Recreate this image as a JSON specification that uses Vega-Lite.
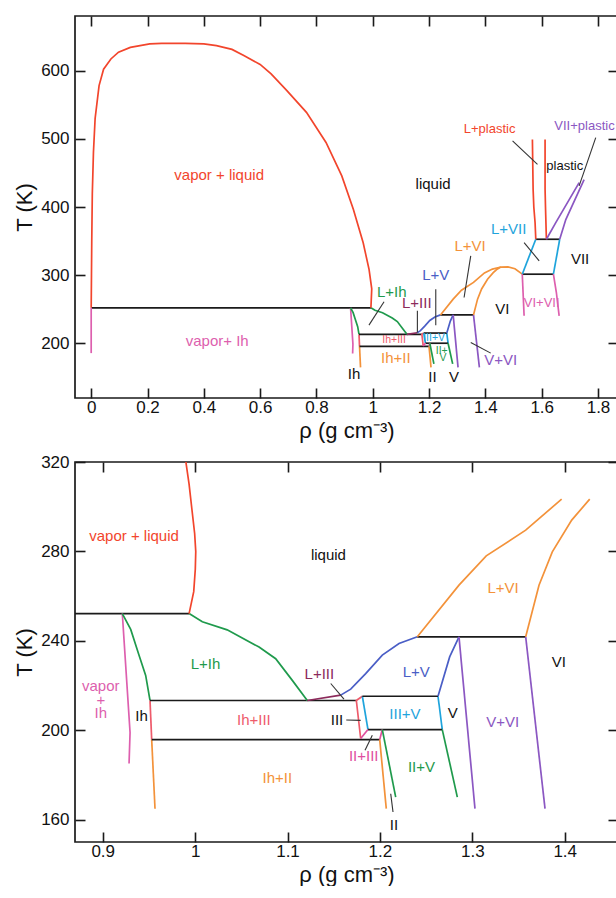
{
"$schema": "https://vega.github.io/schema/vega-lite/v6.json",
"background": "white",
"padding": {"left": 12, "top": 14, "right": 0, "bottom": 0},
"spacing": 64,
"bounds": "flush",
"config": {
 "view": {"stroke": "#1a1a1a", "strokeWidth": 1.7},
 "axis": {"domain": false, "grid": false, "tickColor": "#1a1a1a", "tickWidth": 1.6, "tickSize": -10, "labelFont": "Liberation Sans", "labelFontSize": 17, "labelColor": "#111111", "labelFlush": false, "labelOverlap": false, "labelBound": false, "titleFont": "Liberation Sans", "titleFontSize": 22, "titleFontWeight": "normal", "titleColor": "#111111", "minExtent": 0},
 "axisX": {"labelPadding": 11, "titlePadding": 5},
 "axisY": {"labelPadding": 16, "titlePadding": 4},
 "text": {"font": "Liberation Sans"}
},
"datasets": {
 "cluster": [
  {"s":"t252","c":"triple","i":0,"x":0,"T":252.2},{"s":"t252","c":"triple","i":1,"x":0.9935,"T":252.2},
  {"s":"vIh","c":"vapor+Ih","i":0,"x":0.9212,"T":252.2},{"s":"vIh","c":"vapor+Ih","i":1,"x":0.9296,"T":199},{"s":"vIh","c":"vapor+Ih","i":2,"x":0.9285,"T":185.1},
  {"s":"IhL","c":"L+Ih","i":0,"x":0.9212,"T":252.2},{"s":"IhL","c":"L+Ih","i":1,"x":0.9303,"T":245.1},{"s":"IhL","c":"L+Ih","i":2,"x":0.9393,"T":233.5},{"s":"IhL","c":"L+Ih","i":3,"x":0.9465,"T":224.5},{"s":"IhL","c":"L+Ih","i":4,"x":0.9512,"T":213.3},
  {"s":"IhIII","c":"Ih+III","i":0,"x":0.9512,"T":213.3},{"s":"IhIII","c":"Ih+III","i":1,"x":0.953,"T":195.8},
  {"s":"IhII","c":"Ih+II","i":0,"x":0.953,"T":195.8},{"s":"IhII","c":"Ih+II","i":1,"x":0.9566,"T":164.9},
  {"s":"t213","c":"triple","i":0,"x":0.9512,"T":213.3},{"s":"t213","c":"triple","i":1,"x":1.1745,"T":213.3},
  {"s":"t196","c":"triple","i":0,"x":0.953,"T":195.8},{"s":"t196","c":"triple","i":1,"x":1.1998,"T":195.8},
  {"s":"III1","c":"Ih+III","i":0,"x":1.181,"T":215.2},{"s":"III1","c":"Ih+III","i":1,"x":1.1745,"T":213.3},{"s":"III1","c":"Ih+III","i":2,"x":1.1792,"T":196.3},
  {"s":"IIIV1","c":"III+V","i":0,"x":1.181,"T":215.2},{"s":"IIIV1","c":"III+V","i":1,"x":1.1871,"T":200.3},
  {"s":"IIIV2","c":"III+V","i":0,"x":1.2629,"T":215.2},{"s":"IIIV2","c":"III+V","i":1,"x":1.2675,"T":200.3},
  {"s":"t215","c":"triple","i":0,"x":1.181,"T":215.2},{"s":"t215","c":"triple","i":1,"x":1.2629,"T":215.2},
  {"s":"t200","c":"triple","i":0,"x":1.1871,"T":200.3},{"s":"t200","c":"triple","i":1,"x":1.2675,"T":200.3},
  {"s":"IIIII1","c":"II+III","i":0,"x":1.1792,"T":196.3},{"s":"IIIII1","c":"II+III","i":1,"x":1.1871,"T":200.3},
  {"s":"IIIII2","c":"II+III","i":0,"x":1.1998,"T":195.8},{"s":"IIIII2","c":"II+III","i":1,"x":1.2026,"T":200.3},
  {"s":"II1","c":"Ih+II","i":0,"x":1.1998,"T":195.8},{"s":"II1","c":"Ih+II","i":1,"x":1.2069,"T":164.9},
  {"s":"IIV1","c":"II+V","i":0,"x":1.2026,"T":200.3},{"s":"IIV1","c":"II+V","i":1,"x":1.2171,"T":170.1},
  {"s":"IIV2","c":"II+V","i":0,"x":1.2675,"T":200.3},{"s":"IIV2","c":"II+V","i":1,"x":1.2838,"T":170.1},
  {"s":"LIh","c":"L+Ih","i":0,"x":0.9935,"T":252.2},{"s":"LIh","c":"L+Ih","i":1,"x":1.0078,"T":248.5},{"s":"LIh","c":"L+Ih","i":2,"x":1.0347,"T":244.9},{"s":"LIh","c":"L+Ih","i":3,"x":1.0692,"T":237.2},{"s":"LIh","c":"L+Ih","i":4,"x":1.0872,"T":232},{"s":"LIh","c":"L+Ih","i":5,"x":1.1052,"T":222.3},{"s":"LIh","c":"L+Ih","i":6,"x":1.1214,"T":213.3},
  {"s":"LIII","c":"L+III","i":0,"x":1.1214,"T":213.3},{"s":"LIII","c":"L+III","i":1,"x":1.1576,"T":215.7},
  {"s":"LV1","c":"L+V","i":0,"x":1.1576,"T":215.7},{"s":"LV1","c":"L+V","i":1,"x":1.1684,"T":218.4},{"s":"LV1","c":"L+V","i":2,"x":1.1846,"T":225.3},{"s":"LV1","c":"L+V","i":3,"x":1.2026,"T":233.6},{"s":"LV1","c":"L+V","i":4,"x":1.2207,"T":238.8},{"s":"LV1","c":"L+V","i":5,"x":1.2405,"T":241.8},
  {"s":"t242","c":"triple","i":0,"x":1.2405,"T":241.8},{"s":"t242","c":"triple","i":1,"x":1.3578,"T":241.8},
  {"s":"LV2","c":"L+V","i":0,"x":1.2629,"T":215.2},{"s":"LV2","c":"L+V","i":1,"x":1.2755,"T":232.8},{"s":"LV2","c":"L+V","i":2,"x":1.2856,"T":241.8},
  {"s":"VVI1","c":"V+VI","i":0,"x":1.2856,"T":241.8},{"s":"VVI1","c":"V+VI","i":1,"x":1.3029,"T":164.9},
  {"s":"VVI2","c":"V+VI","i":0,"x":1.3578,"T":241.8},{"s":"VVI2","c":"V+VI","i":1,"x":1.3787,"T":164.9}
 ],
 "topLines": [
  {"s":"dome","c":"vapor+liquid","i":0,"x":0,"T":252.3},{"s":"dome","c":"vapor+liquid","i":1,"x":0.001,"T":300},{"s":"dome","c":"vapor+liquid","i":2,"x":0.002,"T":350},{"s":"dome","c":"vapor+liquid","i":3,"x":0.004,"T":420},{"s":"dome","c":"vapor+liquid","i":4,"x":0.008,"T":480},{"s":"dome","c":"vapor+liquid","i":5,"x":0.014,"T":530},{"s":"dome","c":"vapor+liquid","i":6,"x":0.028,"T":578},{"s":"dome","c":"vapor+liquid","i":7,"x":0.044,"T":602},{"s":"dome","c":"vapor+liquid","i":8,"x":0.07,"T":617},{"s":"dome","c":"vapor+liquid","i":9,"x":0.097,"T":627},{"s":"dome","c":"vapor+liquid","i":10,"x":0.139,"T":634},{"s":"dome","c":"vapor+liquid","i":11,"x":0.208,"T":639},{"s":"dome","c":"vapor+liquid","i":12,"x":0.25,"T":640},{"s":"dome","c":"vapor+liquid","i":13,"x":0.334,"T":640},{"s":"dome","c":"vapor+liquid","i":14,"x":0.40,"T":639},{"s":"dome","c":"vapor+liquid","i":15,"x":0.445,"T":636.5},{"s":"dome","c":"vapor+liquid","i":16,"x":0.50,"T":631},{"s":"dome","c":"vapor+liquid","i":17,"x":0.542,"T":622},{"s":"dome","c":"vapor+liquid","i":18,"x":0.60,"T":609},{"s":"dome","c":"vapor+liquid","i":19,"x":0.639,"T":595},{"s":"dome","c":"vapor+liquid","i":20,"x":0.695,"T":570.6},{"s":"dome","c":"vapor+liquid","i":21,"x":0.7645,"T":538.7},{"s":"dome","c":"vapor+liquid","i":22,"x":0.834,"T":494.6},{"s":"dome","c":"vapor+liquid","i":23,"x":0.89,"T":445.6},{"s":"dome","c":"vapor+liquid","i":24,"x":0.931,"T":396.6},{"s":"dome","c":"vapor+liquid","i":25,"x":0.966,"T":347.5},{"s":"dome","c":"vapor+liquid","i":26,"x":0.987,"T":308.3},{"s":"dome","c":"vapor+liquid","i":27,"x":0.9964,"T":280},{"s":"dome","c":"vapor+liquid","i":28,"x":0.9935,"T":252.3},
  {"s":"vIh0","c":"vapor+Ih","i":0,"x":0,"T":252.3},{"s":"vIh0","c":"vapor+Ih","i":1,"x":0,"T":185.8},
  {"s":"LVI1","c":"L+VI","i":0,"x":1.2405,"T":241.8},{"s":"LVI1","c":"L+VI","i":1,"x":1.2856,"T":264.9},{"s":"LVI1","c":"L+VI","i":2,"x":1.3151,"T":278},{"s":"LVI1","c":"L+VI","i":3,"x":1.3578,"T":289.5},{"s":"LVI1","c":"L+VI","i":4,"x":1.3967,"T":303.4},{"s":"LVI1","c":"L+VI","i":5,"x":1.425,"T":309},{"s":"LVI1","c":"L+VI","i":6,"x":1.455,"T":312},{"s":"LVI1","c":"L+VI","i":7,"x":1.48,"T":312.3},{"s":"LVI1","c":"L+VI","i":8,"x":1.505,"T":309.5},{"s":"LVI1","c":"L+VI","i":9,"x":1.531,"T":301.5},
  {"s":"LVI2","c":"L+VI","i":0,"x":1.3578,"T":241.8},{"s":"LVI2","c":"L+VI","i":1,"x":1.3722,"T":264.9},{"s":"LVI2","c":"L+VI","i":2,"x":1.3866,"T":279.8},{"s":"LVI2","c":"L+VI","i":3,"x":1.4076,"T":294},{"s":"LVI2","c":"L+VI","i":4,"x":1.4271,"T":303.4},{"s":"LVI2","c":"L+VI","i":5,"x":1.44,"T":308.3},{"s":"LVI2","c":"L+VI","i":6,"x":1.455,"T":312},
  {"s":"t301","c":"triple","i":0,"x":1.531,"T":301.5},{"s":"t301","c":"triple","i":1,"x":1.6416,"T":301.5},
  {"s":"t352","c":"triple","i":0,"x":1.579,"T":352.7},{"s":"t352","c":"triple","i":1,"x":1.664,"T":352.7},
  {"s":"LVII1","c":"L+VII","i":0,"x":1.531,"T":301.5},{"s":"LVII1","c":"L+VII","i":1,"x":1.579,"T":352.7},
  {"s":"LVII2","c":"L+VII","i":0,"x":1.6416,"T":301.5},{"s":"LVII2","c":"L+VII","i":1,"x":1.664,"T":352.7},
  {"s":"Lp1","c":"L+plastic","i":0,"x":1.579,"T":352.7},{"s":"Lp1","c":"L+plastic","i":1,"x":1.5765,"T":377},{"s":"Lp1","c":"L+plastic","i":2,"x":1.572,"T":400},{"s":"Lp1","c":"L+plastic","i":3,"x":1.5695,"T":425.9},{"s":"Lp1","c":"L+plastic","i":4,"x":1.567,"T":499},
  {"s":"Lp2","c":"L+plastic","i":0,"x":1.6167,"T":352.7},{"s":"Lp2","c":"L+plastic","i":1,"x":1.6135,"T":400},{"s":"Lp2","c":"L+plastic","i":2,"x":1.612,"T":425.9},{"s":"Lp2","c":"L+plastic","i":3,"x":1.612,"T":499},
  {"s":"VIIp1","c":"VII+plastic","i":0,"x":1.6167,"T":352.7},{"s":"VIIp1","c":"VII+plastic","i":1,"x":1.65,"T":377},{"s":"VIIp1","c":"VII+plastic","i":2,"x":1.733,"T":435.7},
  {"s":"VIIp2","c":"VII+plastic","i":0,"x":1.664,"T":352.7},{"s":"VIIp2","c":"VII+plastic","i":1,"x":1.6856,"T":381.6},{"s":"VIIp2","c":"VII+plastic","i":2,"x":1.7506,"T":440},
  {"s":"VIVII1","c":"VI+VII","i":0,"x":1.531,"T":301.5},{"s":"VIVII1","c":"VI+VII","i":1,"x":1.5375,"T":240.5},
  {"s":"VIVII2","c":"VI+VII","i":0,"x":1.6416,"T":301.5},{"s":"VIVII2","c":"VI+VII","i":1,"x":1.652,"T":275},{"s":"VIVII2","c":"VI+VII","i":2,"x":1.662,"T":240.5}
 ],
 "topPtr": [
  {"s":"a","i":0,"x":1.0401,"T":261},{"s":"a","i":1,"x":0.9865,"T":226.8},
  {"s":"b","i":0,"x":1.1585,"T":247.9},{"s":"b","i":1,"x":1.1585,"T":216.1},
  {"s":"c","i":0,"x":1.2238,"T":279.5},{"s":"c","i":1,"x":1.2238,"T":226.8},
  {"s":"d","i":0,"x":1.348,"T":328.4},{"s":"d","i":1,"x":1.3243,"T":267.3},
  {"s":"e","i":0,"x":1.348,"T":201.5},{"s":"e","i":1,"x":1.419,"T":185.8},
  {"s":"f","i":0,"x":1.4965,"T":496.8},{"s":"f","i":1,"x":1.585,"T":462.5},
  {"s":"g","i":0,"x":1.792,"T":501.6},{"s":"g","i":1,"x":1.733,"T":430.9},
  {"s":"h","i":0,"x":1.5375,"T":347.9},{"s":"h","i":1,"x":1.591,"T":321.1}
 ],
 "topLabels": [
  {"label":"vapor + liquid","c":"vapor+liquid","x":0.4545,"T":447},
  {"label":"liquid","c":"phase","x":1.2142,"T":433.2},
  {"label":"L+VII","c":"L+VII","x":1.4825,"T":368.4},
  {"label":"VII","c":"phase","x":1.7364,"T":323.4},
  {"label":"L+VI","c":"L+VI","x":1.3456,"T":343},
  {"label":"L+V","c":"L+V","x":1.2238,"T":300},
  {"label":"L+Ih","c":"L+Ih","x":1.0675,"T":275.7},
  {"label":"L+III","c":"L+III","x":1.1563,"T":258.6},
  {"label":"VI","c":"phase","x":1.4605,"T":250.2},
  {"label":"vapor+ Ih","c":"vapor+Ih","x":0.4476,"T":203.9},
  {"label":"Ih+II","c":"Ih+II","x":1.0817,"T":178},
  {"label":"V+VI","c":"V+VI","x":1.4547,"T":176},
  {"label":"Ih","c":"phase","x":0.9336,"T":155},
  {"label":"II","c":"phase","x":1.2118,"T":150.2},
  {"label":"V","c":"phase","x":1.2888,"T":150.2}
 ],
 "topLabelsM": [
  {"label":"L+plastic","c":"L+plastic","x":1.415,"T":514.8},
  {"label":"plastic","c":"phase","x":1.6817,"T":460.2},
  {"label":"VII+plastic","c":"VII+plastic","x":1.752,"T":518.7},
  {"label":"VI+VII","c":"VI+VII","x":1.6,"T":260}
 ],
 "topLabelsS": [
  {"label":"Ih+III","c":"Ih+III","x":1.0757,"T":205.4},
  {"label":"III+V","c":"III+V","x":1.2178,"T":208.2},
  {"label":"II+","c":"II+V","x":1.245,"T":189.3},
  {"label":"V","c":"II+V","x":1.2497,"T":178}
 ],
 "botLines": [
  {"s":"vl","c":"vapor+liquid","i":0,"x":0.99,"T":320},{"s":"vl","c":"vapor+liquid","i":1,"x":0.9935,"T":310},{"s":"vl","c":"vapor+liquid","i":2,"x":0.9964,"T":299.3},{"s":"vl","c":"vapor+liquid","i":3,"x":0.9995,"T":288},{"s":"vl","c":"vapor+liquid","i":4,"x":1.0007,"T":279.9},{"s":"vl","c":"vapor+liquid","i":5,"x":1.0002,"T":272},{"s":"vl","c":"vapor+liquid","i":6,"x":0.9985,"T":262},{"s":"vl","c":"vapor+liquid","i":7,"x":0.9935,"T":252.2},
  {"s":"LVI1","c":"L+VI","i":0,"x":1.2405,"T":241.8},{"s":"LVI1","c":"L+VI","i":1,"x":1.2856,"T":264.9},{"s":"LVI1","c":"L+VI","i":2,"x":1.3151,"T":278},{"s":"LVI1","c":"L+VI","i":3,"x":1.3578,"T":289.5},{"s":"LVI1","c":"L+VI","i":4,"x":1.3967,"T":303.4},
  {"s":"LVI2","c":"L+VI","i":0,"x":1.3578,"T":241.8},{"s":"LVI2","c":"L+VI","i":1,"x":1.3722,"T":264.9},{"s":"LVI2","c":"L+VI","i":2,"x":1.3866,"T":279.8},{"s":"LVI2","c":"L+VI","i":3,"x":1.4076,"T":294},{"s":"LVI2","c":"L+VI","i":4,"x":1.4271,"T":303.4}
 ],
 "botPtr": [
  {"s":"a","i":0,"x":1.1468,"T":220.9},{"s":"a","i":1,"x":1.1611,"T":213.9},
  {"s":"b","i":0,"x":1.1636,"T":204.6},{"s":"b","i":1,"x":1.1792,"T":204.4},
  {"s":"c","i":0,"x":1.1839,"T":191},{"s":"c","i":1,"x":1.1918,"T":197.8},
  {"s":"d","i":0,"x":1.2117,"T":171.6},{"s":"d","i":1,"x":1.2142,"T":163.4}
 ],
 "botLabels": [
  {"label":"vapor + liquid","c":"vapor+liquid","x":0.9339,"T":286.8},
  {"label":"liquid","c":"phase","x":1.1443,"T":278.4},
  {"label":"L+VI","c":"L+VI","x":1.3333,"T":263.5},
  {"label":"VI","c":"phase","x":1.3936,"T":230.5},
  {"label":"L+Ih","c":"L+Ih","x":1.0113,"T":229.5},
  {"label":"L+III","c":"L+III","x":1.1345,"T":225.2},
  {"label":"L+V","c":"L+V","x":1.2394,"T":226.2},
  {"label":"vapor","c":"vapor+Ih","x":0.8979,"T":219.8},
  {"label":"+","c":"vapor+Ih","x":0.8979,"T":213.6},
  {"label":"Ih","c":"vapor+Ih","x":0.8979,"T":207.6},
  {"label":"Ih","c":"phase","x":0.942,"T":206.4},
  {"label":"Ih+III","c":"Ih+III","x":1.0636,"T":204.6},
  {"label":"III","c":"phase","x":1.1536,"T":204.5},
  {"label":"III+V","c":"III+V","x":1.2271,"T":207.3},
  {"label":"V","c":"phase","x":1.2789,"T":207.7},
  {"label":"V+VI","c":"V+VI","x":1.3329,"T":203.8},
  {"label":"II+III","c":"II+III","x":1.1825,"T":188.5},
  {"label":"II+V","c":"II+V","x":1.245,"T":183.7},
  {"label":"Ih+II","c":"Ih+II","x":1.089,"T":178.8},
  {"label":"II","c":"phase","x":1.2152,"T":157.6}
 ]
},
"vconcat": [
 {
  "width": 543, "height": 382,
  "resolve": {"axis": {"x": "independent", "y": "independent"}},
  "layer": [
   {"data": {"name": "cluster"}, "mark": {"type": "line", "clip": true, "strokeWidth": 1.7},
    "encoding": {
     "x": {"field": "x", "type": "quantitative", "scale": {"domain": [-0.0575, 1.871], "nice": false, "zero": false}, "axis": {"orient": "bottom", "values": [0,0.2,0.4,0.6,0.8,1,1.2,1.4,1.6,1.8], "format": "~r", "title": "ρ (g cm⁻³)"}},
     "y": {"field": "T", "type": "quantitative", "scale": {"domain": [120, 680], "nice": false, "zero": false}, "axis": {"orient": "left", "values": [200,300,400,500,600], "format": "~r", "title": "T (K)"}},
     "color": {"field": "c", "type": "nominal", "legend": null, "scale": {"domain": ["triple","phase","vapor+liquid","vapor+Ih","L+Ih","Ih+III","Ih+II","L+III","L+V","III+V","II+III","II+V","V+VI","L+VI","VI+VII","L+VII","L+plastic","VII+plastic"], "range": ["#1a1a1a","#111111","#f2452c","#dd5fae","#1f9a4c","#ee5b6b","#f3923a","#8c2a5b","#4a5ec6","#1fa4dc","#e04f9f","#1f9a4c","#8b57c2","#f3923a","#dd5fae","#1fa4dc","#f2452c","#8b57c2"]}},
     "detail": {"field": "s"}, "order": {"field": "i"}}},
   {"data": {"name": "topLines"}, "mark": {"type": "line", "clip": true, "strokeWidth": 1.7},
    "encoding": {
     "x": {"field": "x", "type": "quantitative", "scale": {"domain": [-0.0575, 1.871], "nice": false, "zero": false}, "axis": {"orient": "top", "values": [0,0.2,0.4,0.6,0.8,1,1.2,1.4,1.6,1.8], "labels": false, "title": null}},
     "y": {"field": "T", "type": "quantitative", "scale": {"domain": [120, 680], "nice": false, "zero": false}, "axis": {"orient": "right", "values": [200,300,400,500,600], "labels": false, "title": null}},
     "color": {"field": "c", "type": "nominal", "legend": null, "scale": {"domain": ["triple","phase","vapor+liquid","vapor+Ih","L+Ih","Ih+III","Ih+II","L+III","L+V","III+V","II+III","II+V","V+VI","L+VI","VI+VII","L+VII","L+plastic","VII+plastic"], "range": ["#1a1a1a","#111111","#f2452c","#dd5fae","#1f9a4c","#ee5b6b","#f3923a","#8c2a5b","#4a5ec6","#1fa4dc","#e04f9f","#1f9a4c","#8b57c2","#f3923a","#dd5fae","#1fa4dc","#f2452c","#8b57c2"]}},
     "detail": {"field": "s"}, "order": {"field": "i"}}},
   {"data": {"name": "topPtr"}, "mark": {"type": "line", "clip": true, "strokeWidth": 1.1, "color": "#333333"},
    "encoding": {
     "x": {"field": "x", "type": "quantitative", "scale": {"domain": [-0.0575, 1.871], "nice": false, "zero": false}, "axis": null},
     "y": {"field": "T", "type": "quantitative", "scale": {"domain": [120, 680], "nice": false, "zero": false}, "axis": null},
     "detail": {"field": "s"}, "order": {"field": "i"}}},
   {"data": {"name": "topLabels"}, "mark": {"type": "text", "fontSize": 15, "font": "Liberation Sans"},
    "encoding": {
     "x": {"field": "x", "type": "quantitative", "scale": {"domain": [-0.0575, 1.871], "nice": false, "zero": false}, "axis": null},
     "y": {"field": "T", "type": "quantitative", "scale": {"domain": [120, 680], "nice": false, "zero": false}, "axis": null},
     "text": {"field": "label"},
     "color": {"field": "c", "type": "nominal", "legend": null, "scale": {"domain": ["triple","phase","vapor+liquid","vapor+Ih","L+Ih","Ih+III","Ih+II","L+III","L+V","III+V","II+III","II+V","V+VI","L+VI","VI+VII","L+VII","L+plastic","VII+plastic"], "range": ["#1a1a1a","#111111","#f2452c","#dd5fae","#1f9a4c","#ee5b6b","#f3923a","#8c2a5b","#4a5ec6","#1fa4dc","#e04f9f","#1f9a4c","#8b57c2","#f3923a","#dd5fae","#1fa4dc","#f2452c","#8b57c2"]}}}},
   {"data": {"name": "topLabelsM"}, "mark": {"type": "text", "fontSize": 13, "font": "Liberation Sans"},
    "encoding": {
     "x": {"field": "x", "type": "quantitative", "scale": {"domain": [-0.0575, 1.871], "nice": false, "zero": false}, "axis": null},
     "y": {"field": "T", "type": "quantitative", "scale": {"domain": [120, 680], "nice": false, "zero": false}, "axis": null},
     "text": {"field": "label"},
     "color": {"field": "c", "type": "nominal", "legend": null, "scale": {"domain": ["triple","phase","vapor+liquid","vapor+Ih","L+Ih","Ih+III","Ih+II","L+III","L+V","III+V","II+III","II+V","V+VI","L+VI","VI+VII","L+VII","L+plastic","VII+plastic"], "range": ["#1a1a1a","#111111","#f2452c","#dd5fae","#1f9a4c","#ee5b6b","#f3923a","#8c2a5b","#4a5ec6","#1fa4dc","#e04f9f","#1f9a4c","#8b57c2","#f3923a","#dd5fae","#1fa4dc","#f2452c","#8b57c2"]}}}},
   {"data": {"name": "topLabelsS"}, "mark": {"type": "text", "fontSize": 10.5, "font": "Liberation Sans"},
    "encoding": {
     "x": {"field": "x", "type": "quantitative", "scale": {"domain": [-0.0575, 1.871], "nice": false, "zero": false}, "axis": null},
     "y": {"field": "T", "type": "quantitative", "scale": {"domain": [120, 680], "nice": false, "zero": false}, "axis": null},
     "text": {"field": "label"},
     "color": {"field": "c", "type": "nominal", "legend": null, "scale": {"domain": ["triple","phase","vapor+liquid","vapor+Ih","L+Ih","Ih+III","Ih+II","L+III","L+V","III+V","II+III","II+V","V+VI","L+VI","VI+VII","L+VII","L+plastic","VII+plastic"], "range": ["#1a1a1a","#111111","#f2452c","#dd5fae","#1f9a4c","#ee5b6b","#f3923a","#8c2a5b","#4a5ec6","#1fa4dc","#e04f9f","#1f9a4c","#8b57c2","#f3923a","#dd5fae","#1fa4dc","#f2452c","#8b57c2"]}}}}
  ]
 },
 {
  "width": 543, "height": 380,
  "resolve": {"axis": {"x": "independent", "y": "independent"}},
  "layer": [
   {"data": {"name": "cluster"}, "mark": {"type": "line", "clip": true, "strokeWidth": 1.7},
    "encoding": {
     "x": {"field": "x", "type": "quantitative", "scale": {"domain": [0.87, 1.4577], "nice": false, "zero": false}, "axis": {"orient": "bottom", "values": [0.9,1,1.1,1.2,1.3,1.4], "format": "~r", "title": "ρ (g cm⁻³)"}},
     "y": {"field": "T", "type": "quantitative", "scale": {"domain": [150, 320], "nice": false, "zero": false}, "axis": {"orient": "left", "values": [160,200,240,280,320], "format": "~r", "title": "T (K)"}},
     "color": {"field": "c", "type": "nominal", "legend": null, "scale": {"domain": ["triple","phase","vapor+liquid","vapor+Ih","L+Ih","Ih+III","Ih+II","L+III","L+V","III+V","II+III","II+V","V+VI","L+VI","VI+VII","L+VII","L+plastic","VII+plastic"], "range": ["#1a1a1a","#111111","#f2452c","#dd5fae","#1f9a4c","#ee5b6b","#f3923a","#8c2a5b","#4a5ec6","#1fa4dc","#e04f9f","#1f9a4c","#8b57c2","#f3923a","#dd5fae","#1fa4dc","#f2452c","#8b57c2"]}},
     "detail": {"field": "s"}, "order": {"field": "i"}}},
   {"data": {"name": "botLines"}, "mark": {"type": "line", "clip": true, "strokeWidth": 1.7},
    "encoding": {
     "x": {"field": "x", "type": "quantitative", "scale": {"domain": [0.87, 1.4577], "nice": false, "zero": false}, "axis": {"orient": "top", "values": [0.9,1,1.1,1.2,1.3,1.4], "labels": false, "title": null}},
     "y": {"field": "T", "type": "quantitative", "scale": {"domain": [150, 320], "nice": false, "zero": false}, "axis": {"orient": "right", "values": [160,200,240,280,320], "labels": false, "title": null}},
     "color": {"field": "c", "type": "nominal", "legend": null, "scale": {"domain": ["triple","phase","vapor+liquid","vapor+Ih","L+Ih","Ih+III","Ih+II","L+III","L+V","III+V","II+III","II+V","V+VI","L+VI","VI+VII","L+VII","L+plastic","VII+plastic"], "range": ["#1a1a1a","#111111","#f2452c","#dd5fae","#1f9a4c","#ee5b6b","#f3923a","#8c2a5b","#4a5ec6","#1fa4dc","#e04f9f","#1f9a4c","#8b57c2","#f3923a","#dd5fae","#1fa4dc","#f2452c","#8b57c2"]}},
     "detail": {"field": "s"}, "order": {"field": "i"}}},
   {"data": {"name": "botPtr"}, "mark": {"type": "line", "clip": true, "strokeWidth": 1.1, "color": "#333333"},
    "encoding": {
     "x": {"field": "x", "type": "quantitative", "scale": {"domain": [0.87, 1.4577], "nice": false, "zero": false}, "axis": null},
     "y": {"field": "T", "type": "quantitative", "scale": {"domain": [150, 320], "nice": false, "zero": false}, "axis": null},
     "detail": {"field": "s"}, "order": {"field": "i"}}},
   {"data": {"name": "botLabels"}, "mark": {"type": "text", "fontSize": 15, "font": "Liberation Sans"},
    "encoding": {
     "x": {"field": "x", "type": "quantitative", "scale": {"domain": [0.87, 1.4577], "nice": false, "zero": false}, "axis": null},
     "y": {"field": "T", "type": "quantitative", "scale": {"domain": [150, 320], "nice": false, "zero": false}, "axis": null},
     "text": {"field": "label"},
     "color": {"field": "c", "type": "nominal", "legend": null, "scale": {"domain": ["triple","phase","vapor+liquid","vapor+Ih","L+Ih","Ih+III","Ih+II","L+III","L+V","III+V","II+III","II+V","V+VI","L+VI","VI+VII","L+VII","L+plastic","VII+plastic"], "range": ["#1a1a1a","#111111","#f2452c","#dd5fae","#1f9a4c","#ee5b6b","#f3923a","#8c2a5b","#4a5ec6","#1fa4dc","#e04f9f","#1f9a4c","#8b57c2","#f3923a","#dd5fae","#1fa4dc","#f2452c","#8b57c2"]}}}}
  ]
 }
]
}
